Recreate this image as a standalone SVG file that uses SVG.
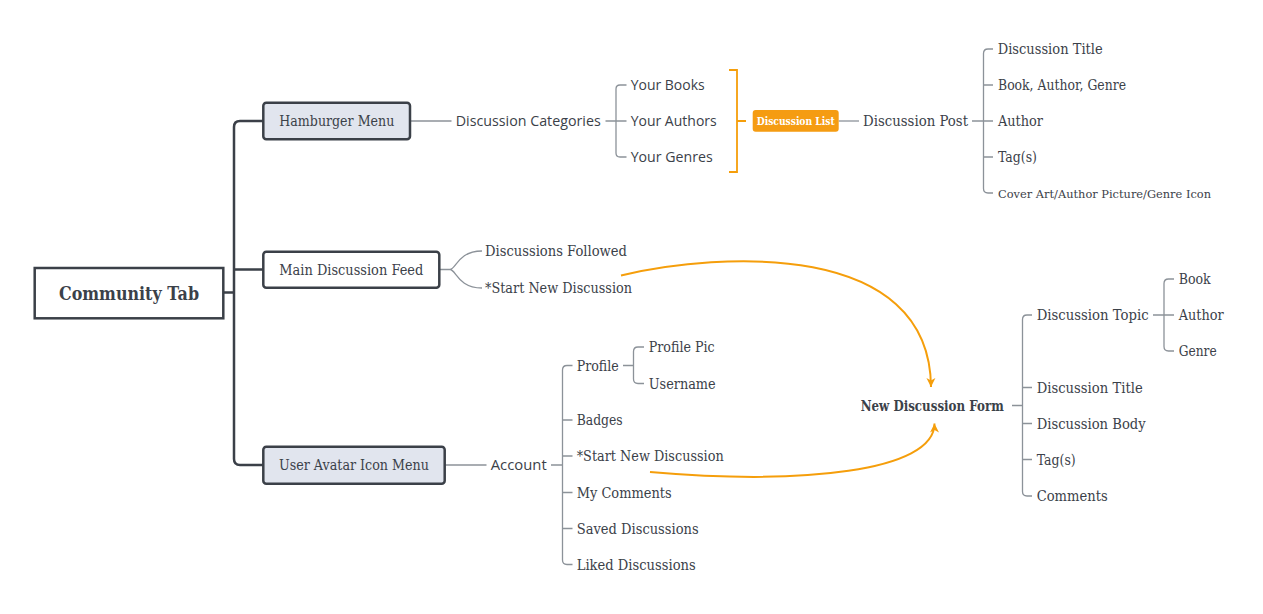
<svg xmlns="http://www.w3.org/2000/svg" width="1263" height="614" viewBox="0 0 1263 614">
<defs>
<style>
.t{font-family:"DejaVu Serif","Liberation Serif",serif;font-size:14.5px;fill:#3b4149}
.s{font-family:"Open Sans","Lato","Liberation Sans",sans-serif;font-size:15px;fill:#3b4149}
.b{font-weight:bold}
.box{stroke:#3b4048;stroke-width:2.5}
.trunk{fill:none;stroke:#3b4048;stroke-width:2.5}
.g{fill:none;stroke:#8c9299;stroke-width:1.3}
.o{fill:none;stroke:#f59e0b;stroke-width:2}
</style>
<marker id="ah" markerUnits="userSpaceOnUse" markerWidth="10" markerHeight="10" refX="9" refY="5" orient="auto">
<path d="M0,0.5 L9,5 L0,9.5 L2.5,5 z" fill="#f59e0b"/>
</marker>
</defs>
<rect width="1263" height="614" fill="#ffffff"/>

<g id="connectors">
<path class="trunk" d="M223 292.5 H234 M264 121 H240 Q234 121 234 127 V459 Q234 465 240 465 H264 M234 269.5 H264"/>
<path class="g" d="M410 121 H451.5"/>
<path class="g" d="M605.5 121 H626.5 M626.5 85 H620 Q616 85 616 89 V153 Q616 157 620 157 H626.5"/>
<path class="o" style="stroke-width:1.8" d="M729 70 H737 V172 H729 M737 121 H746"/>
<path class="g" d="M838.7 121 H859"/>
<path class="g" d="M972 121 H993 M993 49 H988 Q983.5 49 983.5 53.5 V188.5 Q983.5 193 988 193 H993 M983.5 85 H993 M983.5 157 H993"/>
<path class="g" d="M439 269.5 H450 C456 269.5 458 251 482 251 M450 269.5 C456 269.5 458 288 482 288"/>
<path class="g" d="M444.7 465 H486.5"/>
<path class="g" d="M551 465 H562.5 M572.5 365.5 H567 Q562.5 365.5 562.5 370 V560 Q562.5 564.5 567 564.5 H572.5 M562.5 420 H572.5 M562.5 456 H572.5 M562.5 492.5 H572.5 M562.5 528.5 H572.5"/>
<path class="g" d="M623 365.5 H633.5 M644 347 H638 Q633.5 347 633.5 351.5 V379 Q633.5 383.5 638 383.5 H644"/>
<path class="g" d="M1012 405.5 H1022.5 M1032 315 H1027 Q1022.5 315 1022.5 319.5 V491.5 Q1022.5 496 1027 496 H1032 M1022.5 387.5 H1032 M1022.5 423.5 H1032 M1022.5 459.5 H1032"/>
<path class="g" d="M1153 315 H1174 M1174 279 H1168.5 Q1164 279 1164 283.5 V346.5 Q1164 351 1168.5 351 H1174"/>
<path class="o" d="M621 275.5 C720 252 930 240 931 387" marker-end="url(#ah)"/>
<path class="o" d="M650 472 C800 485 934.5 472 934.5 423.5" marker-end="url(#ah)"/>
</g>

<g id="community-tab">
<rect class="box" x="34.7" y="268" width="188.6" height="50.3" fill="#ffffff"/>
<text class="t b" x="59" y="299.5" style="font-size:18.5px" textLength="140" lengthAdjust="spacingAndGlyphs">Community Tab</text>
</g>
<g id="hamburger-menu">
<rect class="box" x="263.3" y="102.7" width="146.7" height="36.6" rx="3" fill="#e1e5ee"/>
<text class="t" x="279.3" y="126.3" textLength="115" lengthAdjust="spacingAndGlyphs">Hamburger Menu</text>
</g>
<g id="main-discussion-feed">
<rect class="box" x="263.3" y="251.7" width="176" height="36" rx="3" fill="#ffffff"/>
<text class="t" x="279.3" y="274.8" textLength="144" lengthAdjust="spacingAndGlyphs">Main Discussion Feed</text>
</g>
<g id="user-avatar-icon-menu">
<rect class="box" x="263.3" y="446.7" width="181.4" height="37" rx="3" fill="#e1e5ee"/>
<text class="t" x="279" y="470.3" textLength="150" lengthAdjust="spacingAndGlyphs">User Avatar Icon Menu</text>
</g>

<g id="discussion-categories"><text class="s" x="455.7" y="126.3" textLength="145" lengthAdjust="spacingAndGlyphs">Discussion Categories</text></g>
<g id="your-books"><text class="s" x="630.7" y="90.3" textLength="74" lengthAdjust="spacingAndGlyphs">Your Books</text></g>
<g id="your-authors"><text class="s" x="630.7" y="126.3" textLength="86" lengthAdjust="spacingAndGlyphs">Your Authors</text></g>
<g id="your-genres"><text class="s" x="630.7" y="162.3" textLength="82" lengthAdjust="spacingAndGlyphs">Your Genres</text></g>

<g id="discussion-list">
<rect x="752.7" y="110" width="86" height="21.7" rx="3" fill="#f59c12"/>
<text class="t b" x="756.7" y="125" style="font-size:11.5px;fill:#ffffff" textLength="78" lengthAdjust="spacingAndGlyphs">Discussion List</text>
</g>
<g id="discussion-post"><text class="t" x="863" y="126.3" textLength="105" lengthAdjust="spacingAndGlyphs">Discussion Post</text></g>
<g id="post-title"><text class="t" x="997.7" y="54.3" textLength="105" lengthAdjust="spacingAndGlyphs">Discussion Title</text></g>
<g id="post-book-author-genre"><text class="t" x="998" y="90.3" textLength="128" lengthAdjust="spacingAndGlyphs">Book, Author, Genre</text></g>
<g id="post-author"><text class="t" x="998" y="126.3" textLength="45" lengthAdjust="spacingAndGlyphs">Author</text></g>
<g id="post-tags"><text class="t" x="998" y="162.3" textLength="39" lengthAdjust="spacingAndGlyphs">Tag(s)</text></g>
<g id="post-cover-art"><text class="t" x="998" y="197.5" style="font-size:11.5px" textLength="213" lengthAdjust="spacingAndGlyphs">Cover Art/Author Picture/Genre Icon</text></g>

<g id="discussions-followed"><text class="t" x="485" y="256.3" textLength="142" lengthAdjust="spacingAndGlyphs">Discussions Followed</text></g>
<g id="feed-start-new"><text class="t" x="485" y="293.3" textLength="147" lengthAdjust="spacingAndGlyphs">*Start New Discussion</text></g>

<g id="account"><text class="s" x="490.7" y="470.3" textLength="56" lengthAdjust="spacingAndGlyphs">Account</text></g>
<g id="profile"><text class="t" x="576.7" y="370.8" textLength="42" lengthAdjust="spacingAndGlyphs">Profile</text></g>
<g id="profile-pic"><text class="t" x="648.7" y="352.3" textLength="66" lengthAdjust="spacingAndGlyphs">Profile Pic</text></g>
<g id="username"><text class="t" x="648.7" y="388.8" textLength="67" lengthAdjust="spacingAndGlyphs">Username</text></g>
<g id="badges"><text class="t" x="576.7" y="425.3" textLength="46" lengthAdjust="spacingAndGlyphs">Badges</text></g>
<g id="account-start-new"><text class="t" x="576.7" y="461.3" textLength="147" lengthAdjust="spacingAndGlyphs">*Start New Discussion</text></g>
<g id="my-comments"><text class="t" x="576.7" y="497.8" textLength="95" lengthAdjust="spacingAndGlyphs">My Comments</text></g>
<g id="saved-discussions"><text class="t" x="576.7" y="533.8" textLength="122" lengthAdjust="spacingAndGlyphs">Saved Discussions</text></g>
<g id="liked-discussions"><text class="t" x="576.7" y="569.8" textLength="119" lengthAdjust="spacingAndGlyphs">Liked Discussions</text></g>

<g id="new-discussion-form"><text class="t b" x="860.7" y="410.6" style="font-size:14px" textLength="143" lengthAdjust="spacingAndGlyphs">New Discussion Form</text></g>
<g id="discussion-topic"><text class="t" x="1036.7" y="320.3" textLength="112" lengthAdjust="spacingAndGlyphs">Discussion Topic</text></g>
<g id="topic-book"><text class="t" x="1178.7" y="284.3" textLength="32" lengthAdjust="spacingAndGlyphs">Book</text></g>
<g id="topic-author"><text class="t" x="1178.7" y="320.3" textLength="45" lengthAdjust="spacingAndGlyphs">Author</text></g>
<g id="topic-genre"><text class="t" x="1178.7" y="356.3" textLength="38" lengthAdjust="spacingAndGlyphs">Genre</text></g>
<g id="form-title"><text class="t" x="1036.7" y="392.8" textLength="106" lengthAdjust="spacingAndGlyphs">Discussion Title</text></g>
<g id="form-body"><text class="t" x="1036.7" y="428.8" textLength="109" lengthAdjust="spacingAndGlyphs">Discussion Body</text></g>
<g id="form-tags"><text class="t" x="1036.7" y="464.8" textLength="39" lengthAdjust="spacingAndGlyphs">Tag(s)</text></g>
<g id="form-comments"><text class="t" x="1036.7" y="501.3" textLength="71" lengthAdjust="spacingAndGlyphs">Comments</text></g>
</svg>
